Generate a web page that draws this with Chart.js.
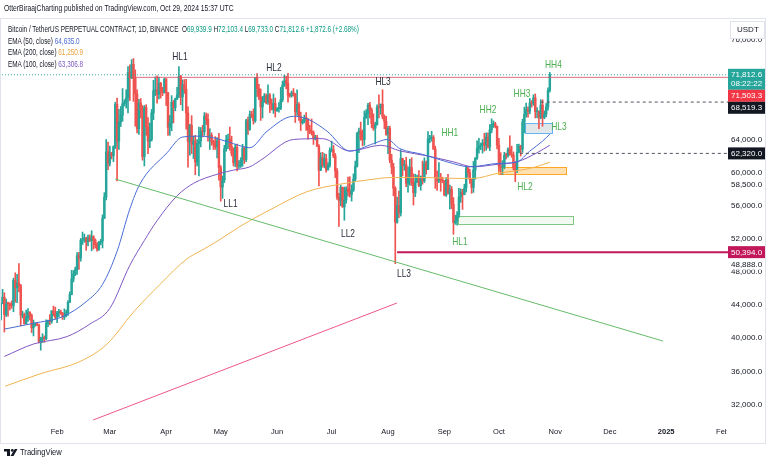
<!DOCTYPE html>
<html>
<head>
<meta charset="utf-8">
<script src="https://cdn.jsdelivr.net/npm/chart.js@4.4.1/dist/chart.umd.min.js"></script>
<style>
  html, body { margin: 0; padding: 0; background: #fff; }
  #wrap { position: relative; width: 768px; height: 463px; overflow: hidden; }
  #chart { position: absolute; left: 0; top: 0; }
  .txt { position: absolute; white-space: nowrap; font-family: 'Liberation Sans', Arial, sans-serif; color: #131722; transform-origin: 0 0; line-height: 10px; }
  .up { color: #089981; }
</style>
</head>
<body>
<div id="wrap">
  <canvas id="chart" width="768" height="463"></canvas>
  <div class="txt" style="left:4px;top:3px;font-size:8.5px;transform:scaleX(0.8)">OtterBiraajCharting published on TradingView.com, Oct 29, 2024 15:37 UTC</div>
  <div class="txt" style="left:8px;top:24px;font-size:8.5px;transform:scaleX(0.75)">Bitcoin / TetherUS PERPETUAL CONTRACT, 1D, BINANCE&nbsp; O<span class="up">69,939.9</span> H<span class="up">72,103.4</span> L<span class="up">69,733.0</span> C<span class="up">71,812.6</span> <span class="up">+1,872.6 (+2.68%)</span></div>
  <div class="txt" style="left:8px;top:35.5px;font-size:8.5px;transform:scaleX(0.75)">EMA (50, close) <span style="color:#4a6cd4">64,635.0</span></div>
  <div class="txt" style="left:8px;top:47px;font-size:8.5px;transform:scaleX(0.75)">EMA (200, close) <span style="color:#e6a23c">61,250.9</span></div>
  <div class="txt" style="left:8px;top:58.5px;font-size:8.5px;transform:scaleX(0.75)">EMA (100, close) <span style="color:#7e57c2">63,306.8</span></div>
  <div class="txt" style="left:20px;top:447px;font-size:9.5px;transform:scaleX(0.8)">TradingView</div>
</div>
<script>
// daily candles, day 0 = 1 Jan 2024, last = 29 Oct 2024 (open = previous close)
const firstOpen = 42280;
const closes = [
  44180,44950,42850,44180,44160,43970,43930,46970,46120,46650,46340,42780,42840,41730,42500,43150,42740,41260,41620,41660,41580,39550,39890,40080,39930,41800,42100,42030,43300,42950,42580, // jan
  43080,43190,43000,42580,42700,43090,44340,45290,47150,47750,48290,49960,49700,51800,51930,52120,51640,52140,51770,52260,51850,51300,50740,51570,51730,54490,57050,62500,61130, // feb
  62390,62030,63130,68240,63790,66100,66930,68300,68500,69020,72100,71460,73080,71390,69500,65300,68390,67600,61930,67860,65500,63800,64000,67210,69880,70000,69450,70780,69890,69640,71300, // mar
  69650,65460,65960,68500,67840,68900,69360,71630,69140,70590,70060,67200,63770,65720,63420,63810,61270,63510,63840,64990,64940,66840,66410,64290,64500,63770,63460,63120,63840,60610, // apr
  58250,59120,62890,63890,64030,63160,62310,61190,63070,60790,60820,61480,62940,61580,66270,65230,67050,66940,66270,71450,70140,69120,67930,68530,69260,68510,69380,68350,67630,68350,67490, // may
  67710,67760,68800,70570,71080,70790,69350,69310,69650,69510,67320,68240,66750,66010,66190,66640,66490,65170,64960,64830,64100,64250,63180,60280,61800,60860,61700,60320,60890,62680, // jun
  62770,62030,60200,57040,56640,58230,55860,56700,58020,57720,57350,57880,59200,60800,64720,65040,64100,63980,66680,67150,68160,67550,65940,65360,65780,67900,67840,68250,66780,66190,64620, // jul
  65350,61500,60690,58110,54020,56030,55120,61700,60880,60940,58710,59350,60600,58740,57560,58880,59470,58420,59490,59010,61160,60380,64090,64180,64250,62830,59420,59030,59370,59120,58970, // aug
  57300,59130,57480,57970,56160,53950,54160,54870,57050,57640,57340,58130,60570,60000,59130,58210,60310,61760,62950,63200,63350,63580,63340,64280,63140,65180,65790,65880,65600,63330, // sep
  60800,60650,60750,62100,62080,62820,62220,62130,60580,60270,62450,63200,62850,66080,67050,67620,67400,68420,68370,69030,67370,67380,66680,68160,66640,67050,67930,69940,71810 // oct
];
const highs = [
  44180,45900,45500,44730,44350,44270,44500,47250,47900,47700,49000,46500,43260,43050,43400,43580,43190,42930,42200,41870,41880,41700,40130,40550,40280,42220,42200,42840,43320,43880,43750,
  43250,43490,43380,43120,43540,43400,44530,45600,48200,48170,48590,50330,50370,52050,52820,52580,52200,52450,52480,52980,52380,52000,51550,51700,51950,54900,57580,64000,63680,
  63200,62440,63230,68500,69000,67630,67990,70150,68800,70000,72800,73000,73650,73780,72400,70000,68850,68950,68100,68100,68200,66650,65980,67620,71150,71560,71700,71550,70900,70300,71370,
  71370,69680,66900,69300,68720,69000,70300,72800,71750,71200,71250,71260,67940,65840,66880,64400,64500,64000,65500,65450,65700,67250,67200,67100,65300,64800,63920,64350,64240,64730,
  60850,59600,63300,64500,64650,65500,64400,62980,63420,63450,61450,61800,63420,63100,66450,66700,67450,67400,67690,71500,71950,70650,70100,69200,69550,69500,70600,69550,68900,69500,69000,
  67860,68450,70290,71050,71750,71650,72000,69580,69860,70150,69560,70000,68450,67300,66450,66950,67250,66500,65720,66480,65050,64520,64500,63380,62400,62450,62300,62200,61200,63000,
  63800,63290,62300,60500,57500,58480,58250,58250,58300,59450,59500,58520,59850,61400,64870,65380,66100,65150,67450,67600,68380,68480,67800,67100,66100,68200,69400,68300,70000,66980,66800,
  65600,65600,62200,61120,58300,57050,57780,62750,61750,61470,61850,60700,61600,61800,59850,59800,59700,60250,59600,61400,61800,61400,64950,64500,65000,64480,63200,60200,61200,59900,59450,
  59050,59400,59800,58500,58320,56980,54850,55300,58100,58040,57980,58600,60650,60660,60400,59200,61350,61800,63850,64130,63570,64000,64750,64800,64800,65800,66500,66250,66080,65620,
  64130,62400,61450,62450,62350,63000,64450,63200,62500,61300,63400,63450,63300,66450,67900,68400,67950,68950,68700,69400,69500,67850,67450,68800,68800,67450,68350,70250,72100
];
const lows = [
  42180,44150,40750,42620,42650,43400,43610,43200,44350,44300,45600,41500,42440,41720,41720,42040,42200,40680,40280,41450,41500,39430,38550,39480,39520,39820,41390,41620,41800,42690,42300,
  41880,42570,42870,42260,42260,42570,42760,44330,45240,46800,47550,47700,48300,49300,51310,51580,50620,51160,51680,50560,50770,50900,50500,50600,51280,50900,54450,56700,60360,
  60800,61650,61320,62900,59000,62800,65560,66200,68040,67800,67200,68700,71340,68600,65600,64800,64600,66600,61500,60800,64500,62300,63000,63800,66400,69300,68400,68900,69000,69300,69600,
  68100,64500,64500,65050,66000,67460,68800,69040,68200,67500,69560,65250,60660,62100,62300,61700,59750,60800,59600,63100,64300,64500,65800,63800,62800,63300,62800,62800,61770,59100,
  56550,56900,58800,62580,62880,62700,62000,60800,60700,60200,60500,60620,60750,61100,61320,64600,65100,66620,65850,66060,69200,68800,66300,66600,68480,68300,68220,67250,67550,67150,66700,
  67400,67300,67600,68550,70400,70130,68500,69100,69120,69220,66050,66900,66300,65080,65850,66000,65100,64050,64700,64540,63400,63950,63150,58400,60250,60650,60580,60050,60320,60660,
  62500,61800,59400,56770,53500,56000,55800,54250,56300,57150,57050,56550,57730,58950,60650,62400,63900,63230,63300,66550,65800,66600,65400,65100,63450,65740,66600,67050,66500,65300,64500,
  62300,61200,59850,57200,49000,53900,54550,54750,59600,60280,58300,57650,58480,58430,56080,57100,58780,58300,57870,58600,58800,59800,60350,63600,63800,62800,58100,57860,58770,57750,58780,
  57200,57120,57400,55600,55650,52550,53750,53650,54600,56400,55550,57320,57650,59450,58700,57500,57600,59200,61600,62350,62770,62350,62600,62700,62950,62650,64800,65450,65400,62850,
  60150,59800,59800,60450,61650,61850,62100,61850,60300,58900,60000,62400,62000,62450,64800,66700,66700,67100,67900,68100,66600,66600,65300,66500,65600,66500,66750,67550,69730
];

// EMA readings (day index, price)
const ema50Days   = [2, 18, 34, 47.5, 56, 64, 71, 76.5, 91.5, 100, 110, 119, 128, 137, 146.5, 161, 168.5, 179.5, 192, 205, 212.5, 219.5, 232, 245.5, 258, 273, 284, 291, 298, 302];
const ema50Values = [41100, 41800, 42600, 44500, 46500, 50500, 55600, 58600, 62400, 64300, 64400, 64100, 63500, 63000, 65000, 66800, 66500, 65000, 62600, 63500, 64000, 62900, 62200, 61300, 60700, 61100, 61300, 62600, 63800, 64635];
const ema100Days   = [2, 18, 36.5, 49, 60, 71, 79, 86, 97, 106, 119, 128, 137, 143, 161, 177, 192, 209, 220, 235, 249, 260, 273, 284, 295, 302];
const ema100Values = [37800, 39300, 40200, 41700, 43600, 48800, 51800, 54200, 57200, 58700, 59800, 60300, 60700, 61500, 64000, 64100, 62600, 63300, 62600, 62000, 61300, 60700, 61000, 61300, 62400, 63307];
const ema200Days   = [2.4, 21.7, 43.7, 58.5, 72.8, 87.6, 102.5, 109.6, 119, 131.6, 149.8, 168.5, 186.6, 204.8, 214, 232.3, 251, 260, 273, 291, 302];
const ema200Values = [34200, 35700, 37200, 39300, 43100, 46500, 49600, 50500, 51700, 53500, 55700, 57700, 58600, 59200, 59400, 59400, 59300, 59300, 59900, 60500, 61251];

// x axis: month starts (day index) and their names
const monthDays   = [31, 60, 91, 121, 152, 182, 213, 244, 274, 305, 335, 366, 397];
const monthLabels = ['Feb', 'Mar', 'Apr', 'May', 'Jun', 'Jul', 'Aug', 'Sep', 'Oct', 'Nov', 'Dec', '2025', 'Feb'];
const priceTicks  = [32000, 36000, 40000, 44000, 48000, 52000, 56000, 60000, 64000, 68000, 72000, 76000];
const extraPriceLabels = [58500, 48888];

// drawn trend lines [day, price]
const greenTrend = [[62.9, 59230], [364.2, 39660]];
const pinkTrend  = [[50.8, 30120], [217.9, 44250]];
const lastPrice = 71812.6;
const resistance = 71503.3, resistanceFrom = 72;
const level1 = 68519.3, level1From = 297;
const level2 = 62320.0, level2From = 285.5;
const crashLevel = 50394.0, crashFrom = 218;

// boxes: green demand, orange, grey-blue
const zoneFrom   = [251.5, 273.5, 288.3];
const zoneTo     = [314.7, 310.9, 303.2];
const zoneTop    = [54760, 60680, 65990];
const zoneBottom = [53800, 59830, 64790];

// swing labels
const swingTexts  = ['HL1', 'HL2', 'HL3', 'LL1', 'LL2', 'LL3', 'HH1', 'HH2', 'HH3', 'HH4', 'HL1', 'HL2', 'HL3'];
const swingDays   = [98.6, 150.3, 210.3, 126.4, 191, 221.8, 247, 268, 286.7, 304, 252.6, 288.3, 307];
const swingPrices = [73960, 72600, 70900, 56200, 52600, 47760, 64800, 67560, 69500, 73000, 51600, 58260, 65500];

// price tags on the right axis
const tagValues = [71812.6, 71503.3, 68519.3, 62320.0, 50394.0];
const tagTexts  = [['71,812.6', '08:22:22'], ['71,503.3'], ['68,519.3'], ['62,320.0'], ['50,394.0']];

const UP = '#26a69a', DOWN = '#ef5350';
const FONT = "'Liberation Sans', Arial, sans-serif";

const days = closes.map((c, i) => i);
const opens = closes.map((c, i) => (i === 0 ? firstOpen : closes[i - 1]));
const candleColors = days.map(i => (closes[i] >= opens[i] ? UP : DOWN));
const pts = (xs, ys) => xs.map((x, i) => ({ x: x, y: ys[i] }));
const fmt = v => v.toLocaleString('en-US', { minimumFractionDigits: 1, maximumFractionDigits: 1 });

function hLine(value, from, color, width, dash) {
    return {
        type: 'line', data: [{ x: from, y: value }, { x: 400, y: value }],
        borderColor: color, borderWidth: width, borderDash: dash || [], pointRadius: 0, order: 0
    };
}

function squeezedText(ctx, text, x, y, size, color, sx) {
    ctx.save();
    ctx.translate(x, y);
    ctx.scale(sx, 1);
    ctx.font = size + 'px ' + FONT;
    ctx.fillStyle = color;
    ctx.textAlign = 'center';
    ctx.textBaseline = 'middle';
    ctx.fillText(text, 0, 0);
    ctx.restore();
}

const zoneStyles = [
    { fill: 'rgba(76,175,80,0.08)', stroke: '#81c784' },
    { fill: 'rgba(255,167,38,0.35)', stroke: '#ffa726' },
    { fill: 'rgba(120,144,156,0.22)', stroke: '#64b5f6' }
];
const tagColors = ['#26a69a', '#f23645', '#131722', '#131722', '#c2185b'];

const overlay = {
    id: 'overlay',
    beforeDatasetsDraw(chart) {
        const { ctx, scales: { x, y } } = chart;
        ctx.save();
        zoneFrom.forEach((f, i) => {
            const x1 = x.getPixelForValue(f), x2 = x.getPixelForValue(zoneTo[i]);
            const y1 = y.getPixelForValue(zoneTop[i]), y2 = y.getPixelForValue(zoneBottom[i]);
            ctx.fillStyle = zoneStyles[i].fill;
            ctx.fillRect(x1, y1, x2 - x1, y2 - y1);
            ctx.strokeStyle = zoneStyles[i].stroke;
            ctx.lineWidth = 1;
            ctx.strokeRect(Math.round(x1) + 0.5, Math.round(y1) + 0.5, Math.round(x2 - x1), Math.round(y2 - y1));
        });
        ctx.restore();
    },
    afterDraw(chart) {
        const { ctx, scales: { x, y } } = chart;
        // swing labels
        swingTexts.forEach((t, i) => {
            const color = i < 6 ? '#2a2e39' : '#4caf50';
            squeezedText(ctx, t, x.getPixelForValue(swingDays[i]), y.getPixelForValue(swingPrices[i]), 10.5, color, 0.8);
        });

        ctx.save();
        // hide the overflow of the last month label under the price axis
        ctx.fillStyle = '#fff';
        ctx.fillRect(726.5, 424, 41, 19);

        // grey price labels
        ctx.font = '8px ' + FONT;
        ctx.textBaseline = 'middle';
        extraPriceLabels.forEach(v => {
            const py = y.getPixelForValue(v);
            ctx.fillStyle = '#fff';
            ctx.fillRect(729, py - 5, 36, 10);
            ctx.fillStyle = '#131722';
            ctx.fillText(fmt(v), 731, py);
        });

        // coloured price tags, pushed down so they do not overlap
        let lastBottom = -Infinity;
        tagValues.forEach((v, i) => {
            const h = tagTexts[i].length * 9 + 3;
            let top = y.getPixelForValue(v) - 6;
            if (top < lastBottom) top = lastBottom;
            lastBottom = top + h;
            ctx.fillStyle = tagColors[i];
            ctx.fillRect(728, top, 37, h);
            ctx.fillStyle = '#fff';
            tagTexts[i].forEach((t, j) => ctx.fillText(t, 731, top + 6.5 + j * 9));
        });

        // currency box (partly covers the top tick, as in the original)
        ctx.fillStyle = '#fff';
        ctx.fillRect(730, 21, 35, 18);
        ctx.strokeStyle = '#e0e3eb';
        ctx.lineWidth = 1;
        ctx.strokeRect(730.5, 21.5, 34, 17);
        ctx.fillStyle = '#131722';
        ctx.fillText('USDT', 737, 30);

        // frame
        ctx.strokeStyle = '#e0e3eb';
        ctx.strokeRect(0.5, 18.5, 765, 425);

        // logo
        ctx.fillStyle = '#131722';
        ctx.fillRect(4, 449, 6, 2.5);
        ctx.fillRect(7, 449, 3, 7);
        ctx.beginPath();
        ctx.arc(12.3, 450.4, 1.4, 0, Math.PI * 2);
        ctx.fill();
        ctx.beginPath();
        ctx.moveTo(10.5, 456);
        ctx.lineTo(14.8, 449);
        ctx.lineTo(17.5, 449);
        ctx.lineTo(13.5, 456);
        ctx.closePath();
        ctx.fill();
        ctx.restore();
    }
};

new Chart(document.getElementById('chart'), {
    type: 'bar',
    data: {
        datasets: [
            hLine(lastPrice, -1, '#26a69a', 1, [1, 2]),
            hLine(resistance, resistanceFrom, 'rgba(214,82,104,0.85)', 1),
            hLine(level1, level1From, '#50535e', 1, [3, 3]),
            hLine(level2, level2From, '#50535e', 1, [3, 3]),
            hLine(crashLevel, crashFrom, '#c2185b', 2),
            { type: 'line', data: greenTrend.map(p => ({ x: p[0], y: p[1] })), borderColor: '#66bb6a', borderWidth: 1, pointRadius: 0, order: 0 },
            { type: 'line', data: pinkTrend.map(p => ({ x: p[0], y: p[1] })), borderColor: 'rgba(233,30,99,0.75)', borderWidth: 1, pointRadius: 0, order: 0 },
            { type: 'line', data: pts(ema50Days, ema50Values), borderColor: '#4a6cd4', borderWidth: 1, pointRadius: 0, cubicInterpolationMode: 'monotone', order: 1 },
            { type: 'line', data: pts(ema100Days, ema100Values), borderColor: '#7e57c2', borderWidth: 1, pointRadius: 0, cubicInterpolationMode: 'monotone', order: 1 },
            { type: 'line', data: pts(ema200Days, ema200Values), borderColor: '#f0b350', borderWidth: 1, pointRadius: 0, cubicInterpolationMode: 'monotone', order: 1 },
            {
                data: days.map(i => ({ x: i, y: [opens[i], closes[i]] })),
                backgroundColor: candleColors, barThickness: 1.8, minBarLength: 1, grouped: false, order: 2
            },
            {
                data: days.map(i => ({ x: i, y: [lows[i], highs[i]] })),
                backgroundColor: candleColors, barThickness: 1, grouped: false, order: 3
            }
        ]
    },
    options: {
        responsive: false,
        animation: false,
        devicePixelRatio: 1,
        layout: { padding: { top: 20, left: 0, right: 0, bottom: 0 } },
        plugins: { legend: { display: false }, tooltip: { enabled: false } },
        scales: {
            x: {
                type: 'linear', min: -0.4, max: 400, offset: false,
                grid: { display: false, drawTicks: false }, border: { display: false },
                afterBuildTicks: s => { s.ticks = monthDays.map(v => ({ value: v })); },
                afterFit: s => { s.height = 40; },
                ticks: {
                    autoSkip: false, maxRotation: 0, padding: 4, color: '#131722',
                    font: c => ({ family: FONT, size: 7.5, weight: (c.tick && c.tick.value === 366) ? 'bold' : 'normal' }),
                    callback: v => monthLabels[monthDays.indexOf(v)]
                }
            },
            y: {
                type: 'linear', position: 'right', min: 29760, max: 78430,
                grid: { display: false, drawTicks: false }, border: { display: false },
                afterBuildTicks: s => { s.ticks = priceTicks.map(v => ({ value: v })); },
                afterFit: s => { s.width = 40; },
                ticks: { autoSkip: false, padding: 3, color: '#131722', font: { family: FONT, size: 8 }, callback: v => fmt(v) }
            }
        }
    },
    plugins: [overlay]
});
</script>
</body>
</html>
